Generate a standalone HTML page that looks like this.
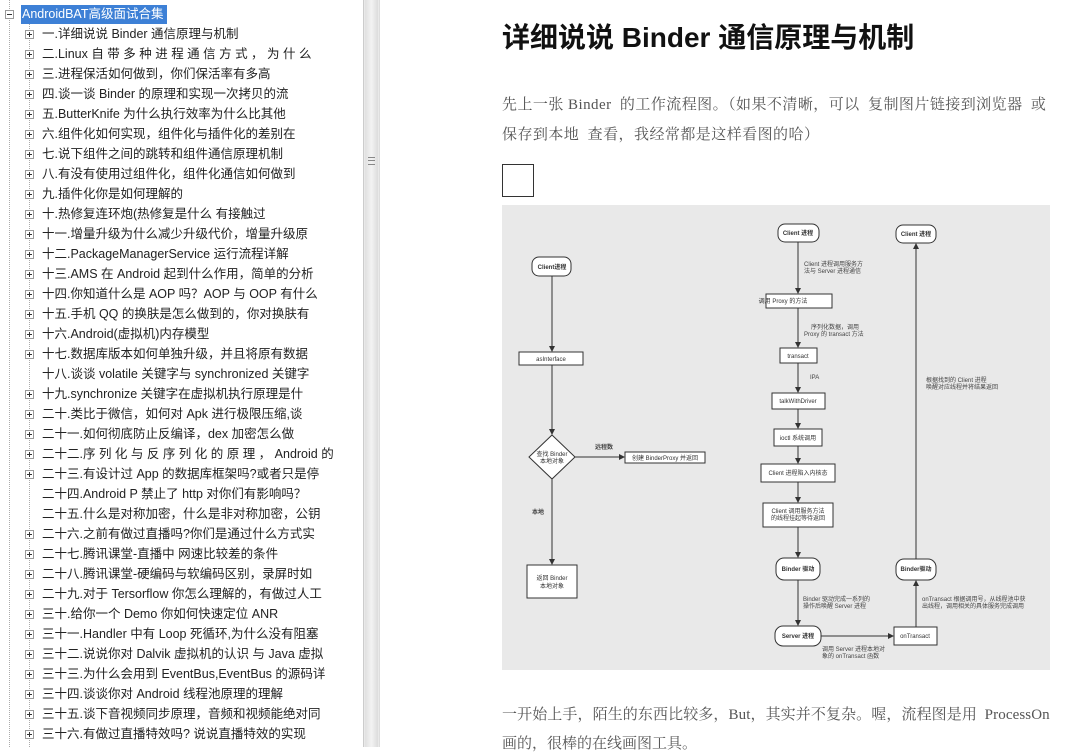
<!DOCTYPE html>
<html><head><meta charset="utf-8"><style>
body{margin:0;width:1092px;height:747px;overflow:hidden;background:#fff;position:relative;font-family:"Liberation Sans","Noto Sans CJK SC",sans-serif}
.tree{position:absolute;left:0;top:0;width:363px;height:747px;background:#fff}
.it{position:absolute;left:42px;font-size:12.5px;color:#222;white-space:nowrap;line-height:16px}
.pl{position:absolute;left:25px;width:7px;height:7px;border:1px solid #999;font-size:8px;line-height:7px;text-align:center;color:#333;background:#fff}
.pl:before{content:"";position:absolute;left:1px;top:3px;width:5px;height:1px;background:#333}
.pl:after{content:"";position:absolute;left:3px;top:1px;width:1px;height:5px;background:#333}
.pl.m:after{display:none}
.sb{position:absolute;left:363px;top:0;width:17px;height:747px;background:#e9e9e9;border-left:1px solid #ccc;border-right:1px solid #ddd;box-sizing:border-box}
.p{position:absolute;left:502px;font-size:15px;color:#555;white-space:nowrap;font-family:"Liberation Serif","Noto Serif CJK SC",serif}
</style></head><body>
<div class="tree">
<div style="position:absolute;left:9px;top:0;width:0;height:747px;border-left:1px dotted #aaa"></div>
<div style="position:absolute;left:29px;top:24px;width:0;height:723px;border-left:1px dotted #aaa"></div>
<div class="pl m" style="left:5px;top:10px"></div>
<div style="position:absolute;left:21px;top:5px;width:145px;height:19px;background:#3d80d6;color:#fff;font-size:12.5px;line-height:19px;padding-left:1px">AndroidBAT高级面试合集</div>
</div>
<div id="items"></div>
<div class="sb"><div style="position:absolute;left:1px;top:0;width:13px;height:747px;background:linear-gradient(90deg,#e0e0e0,#f3f3f3,#dcdcdc)"></div><div style="position:absolute;left:4px;top:157px;width:7px;height:6px;border-top:1px solid #888;border-bottom:1px solid #888"></div><div style="position:absolute;left:4px;top:160px;width:7px;height:1px;background:#888"></div></div>

<div style="position:absolute;left:502px;top:16px;font-size:28px;font-weight:bold;color:#111;font-family:'Liberation Sans','Noto Sans CJK SC',sans-serif;white-space:nowrap">详细说说 Binder 通信原理与机制</div>
<div class="p" style="top:93px;letter-spacing:0.45px">先上一张 Binder&nbsp; 的工作流程图。（如果不清晰，可以&nbsp; 复制图片链接到浏览器&nbsp; 或</div>
<div class="p" style="top:123px;letter-spacing:0.45px">保存到本地&nbsp; 查看，我经常都是这样看图的哈）</div>
<div style="position:absolute;left:502px;top:164px;width:30px;height:31px;border:1px solid #333"></div>
<div class="p" style="top:703px;letter-spacing:0.1px">一开始上手，陌生的东西比较多，But，其实并不复杂。喔，流程图是用&nbsp; ProcessOn</div>
<div class="p" style="top:732px">画的，很棒的在线画图工具。</div>

<svg style="position:absolute;left:0;top:0" width="1092" height="747" font-family="Liberation Sans,Noto Sans CJK SC,sans-serif">
<defs><marker id="a" markerWidth="6" markerHeight="6" refX="5" refY="3" orient="auto"><path d="M0,0L6,3L0,6z" fill="#333"/></marker></defs>
<rect x="502" y="205" width="548" height="465" fill="#e9e9e9"/>
<g stroke="#333" stroke-width="1" fill="none">
<line x1="552" y1="276" x2="552" y2="351" marker-end="url(#a)"/>
<line x1="552" y1="365" x2="552" y2="434" marker-end="url(#a)"/>
<line x1="575" y1="457" x2="624" y2="457" marker-end="url(#a)"/>
<line x1="552" y1="479" x2="552" y2="564" marker-end="url(#a)"/>
<line x1="798" y1="242" x2="798" y2="293" marker-end="url(#a)"/>
<line x1="798" y1="308" x2="798" y2="347" marker-end="url(#a)"/>
<line x1="798" y1="363" x2="798" y2="392" marker-end="url(#a)"/>
<line x1="798" y1="409" x2="798" y2="428" marker-end="url(#a)"/>
<line x1="798" y1="446" x2="798" y2="463" marker-end="url(#a)"/>
<line x1="798" y1="482" x2="798" y2="502" marker-end="url(#a)"/>
<line x1="798" y1="527" x2="798" y2="557" marker-end="url(#a)"/>
<line x1="798" y1="580" x2="798" y2="625" marker-end="url(#a)"/>
<line x1="821" y1="636" x2="893" y2="636" marker-end="url(#a)"/>
<line x1="916" y1="627" x2="916" y2="581" marker-end="url(#a)"/>
<line x1="916" y1="559" x2="916" y2="244" marker-end="url(#a)"/>
</g>
<g stroke="#333" fill="#fff" stroke-width="1">
<rect x="532" y="257" width="39" height="19" rx="7"/>
<rect x="519" y="352" width="64" height="13"/>
<path d="M552,435L575,457L552,479L529,457z"/>
<rect x="625" y="452" width="80" height="11"/>
<rect x="527" y="565" width="50" height="33"/>
<rect x="778" y="224" width="41" height="18" rx="7"/>
<rect x="766" y="294" width="66" height="14"/>
<rect x="780" y="348" width="37" height="15"/>
<rect x="772" y="393" width="53" height="16"/>
<rect x="774" y="429" width="48" height="17"/>
<rect x="761" y="464" width="74" height="18"/>
<rect x="763" y="503" width="70" height="24"/>
<rect x="776" y="558" width="44" height="22" rx="8"/>
<rect x="775" y="626" width="46" height="20" rx="8"/>
<rect x="894" y="627" width="43" height="18"/>
<rect x="896" y="225" width="40" height="18" rx="7"/>
<rect x="896" y="559" width="40" height="21" rx="8"/>
</g>
<g font-size="6" fill="#333" text-anchor="middle">
<text x="552" y="269" font-weight="bold">Client进程</text>
<text x="551" y="361">asInterface</text>
<text x="552" y="456">查找 Binder</text><text x="552" y="463">本地对象</text>
<text x="665" y="460">创建 BinderProxy 并返回</text>
<text x="552" y="580">返回 Binder</text><text x="552" y="588">本地对象</text>
<text x="798" y="235" font-weight="bold">Client 进程</text>
<text x="783" y="303">调用 Proxy 的方法</text>
<text x="798" y="358">transact</text>
<text x="798" y="403">talkWithDriver</text>
<text x="798" y="440">ioctl 系统调用</text>
<text x="798" y="475">Client 进程陷入内核态</text>
<text x="798" y="513">Client 调用服务方法</text><text x="798" y="520">的线程挂起等待返回</text>
<text x="798" y="571" font-weight="bold">Binder 驱动</text>
<text x="798" y="638" font-weight="bold">Server 进程</text>
<text x="915" y="638">onTransact</text>
<text x="916" y="236" font-weight="bold">Client 进程</text>
<text x="916" y="571" font-weight="bold">Binder驱动</text>
</g>
<g font-size="6" fill="#444">
<text x="595" y="449" font-weight="bold">远程数</text>
<text x="532" y="514" font-weight="bold">本地</text>
<text x="804" y="266">Client 进程调用服务方</text><text x="804" y="273">法与 Server 进程通信</text>
<text x="811" y="329">序列化数据，调用</text><text x="804" y="336">Proxy 的 transact 方法</text>
<text x="810" y="379">IPA</text>
<text x="803" y="601">Binder 驱动完成一系列的</text><text x="803" y="608">操作后唤醒 Server 进程</text>
<text x="822" y="651">调用 Server 进程本地对</text><text x="822" y="658">象的 onTransact 函数</text>
<text x="922" y="601">onTransact 根据调用号，从线程池中获</text><text x="922" y="608">出线程，调用相关的具体服务完成调用</text>
<text x="926" y="382">根据找到的 Client 进程</text><text x="926" y="389">唤醒对应线程并将结果返回</text>
</g>
</svg>
<script>
var t=["一.详细说说 Binder 通信原理与机制","二.Linux 自 带 多 种 进 程 通 信 方 式 ， 为 什 么","三.进程保活如何做到，你们保活率有多高","四.谈一谈 Binder 的原理和实现一次拷贝的流","五.ButterKnife 为什么执行效率为什么比其他","六.组件化如何实现，组件化与插件化的差别在","七.说下组件之间的跳转和组件通信原理机制","八.有没有使用过组件化，组件化通信如何做到","九.插件化你是如何理解的","十.热修复连环炮(热修复是什么 有接触过","十一.增量升级为什么减少升级代价，增量升级原","十二.PackageManagerService 运行流程详解","十三.AMS 在 Android 起到什么作用，简单的分析","十四.你知道什么是 AOP 吗？AOP 与 OOP 有什么","十五.手机 QQ 的换肤是怎么做到的，你对换肤有","十六.Android(虚拟机)内存模型","十七.数据库版本如何单独升级，并且将原有数据","十八.谈谈 volatile 关键字与 synchronized 关键字","十九.synchronize 关键字在虚拟机执行原理是什","二十.类比于微信，如何对 Apk 进行极限压缩,谈","二十一.如何彻底防止反编译，dex 加密怎么做","二十二.序 列 化 与 反 序 列 化 的 原 理 ， Android 的","二十三.有设计过 App 的数据库框架吗?或者只是停","二十四.Android P 禁止了 http 对你们有影响吗？","二十五.什么是对称加密，什么是非对称加密，公钥","二十六.之前有做过直播吗?你们是通过什么方式实","二十七.腾讯课堂-直播中 网速比较差的条件","二十八.腾讯课堂-硬编码与软编码区别，录屏时如","二十九.对于 Tersorflow 你怎么理解的，有做过人工","三十.给你一个 Demo 你如何快速定位 ANR","三十一.Handler 中有 Loop 死循环,为什么没有阻塞","三十二.说说你对 Dalvik 虚拟机的认识 与 Java 虚拟","三十三.为什么会用到 EventBus,EventBus 的源码详","三十四.谈谈你对 Android 线程池原理的理解","三十五.谈下音视频同步原理，音频和视频能绝对同","三十六.有做过直播特效吗? 说说直播特效的实现"];
var h="";var noPlus={17:1,23:1,24:1};
for(var i=0;i<t.length;i++){var y=34+i*20;if(!noPlus[i])h+='<div class="pl" style="top:'+(y-4)+'px"></div>';h+='<div class="it" style="top:'+(y-8)+'px">'+t[i]+'</div>';}
document.getElementById("items").innerHTML=h;
</script>
</body></html>
